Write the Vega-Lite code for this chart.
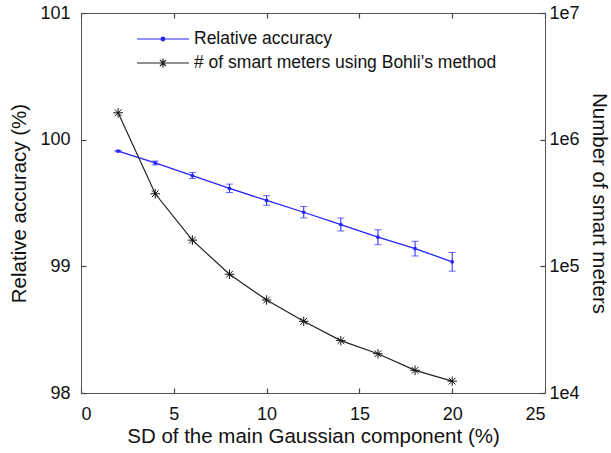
{
  "$schema": "https://vega.github.io/schema/vega-lite/v6.json",
  "width": 464,
  "height": 380,
  "autosize": {"type": "none"},
  "padding": {"left": 81, "top": 13, "right": 66, "bottom": 60},
  "background": "white",
  "config": {
    "view": {"stroke": "#555", "strokeWidth": 1},
    "font": "Liberation Sans",
    "axis": {
      "grid": false,
      "domainColor": "#555",
      "tickColor": "#444",
      "labelColor": "#111",
      "titleColor": "#111",
      "labelFont": "Liberation Sans",
      "titleFont": "Liberation Sans",
      "labelFontSize": 18,
      "titleFontSize": 20.5,
      "titleFontWeight": "normal",
      "tickSize": -5,
      "tickWidth": 1.2
    },
    "legend": {
      "labelFont": "Liberation Sans",
      "labelFontSize": 17.5,
      "labelColor": "#111",
      "labelLimit": 0
    }
  },
  "data": {
    "values": [
      {"sd": 2, "acc": 99.91, "err": 0.005, "meters": 1630000},
      {"sd": 4, "acc": 99.816, "err": 0.015, "meters": 374000},
      {"sd": 6, "acc": 99.717, "err": 0.024, "meters": 161000},
      {"sd": 8, "acc": 99.616, "err": 0.033, "meters": 86500},
      {"sd": 10, "acc": 99.52, "err": 0.038, "meters": 54200},
      {"sd": 12, "acc": 99.427, "err": 0.045, "meters": 36800},
      {"sd": 14, "acc": 99.33, "err": 0.051, "meters": 25900},
      {"sd": 16, "acc": 99.23, "err": 0.059, "meters": 20400},
      {"sd": 18, "acc": 99.14, "err": 0.058, "meters": 15100},
      {"sd": 20, "acc": 99.036, "err": 0.074, "meters": 12400}
    ]
  },
  "layer": [
    {
      "layer": [
        {
          "mark": {"type": "line", "strokeWidth": 1.3},
          "encoding": {
            "x": {
              "field": "sd", "type": "quantitative",
              "scale": {"domain": [0, 25], "nice": false},
              "axis": {"values": [0, 5, 10, 15, 20, 25], "title": "SD of the main Gaussian component (%)", "labelPadding": 17, "titlePadding": 3}
            },
            "y": {
              "field": "acc", "type": "quantitative",
              "scale": {"domain": [98, 101], "nice": false, "zero": false},
              "axis": {"values": [98, 99, 100, 101], "format": "d", "title": "Relative accuracy (%)", "labelPadding": 16, "titlePadding": 10}
            },
            "color": {
              "datum": "Relative accuracy",
              "type": "nominal",
              "scale": {"domain": ["Relative accuracy", "# of smart meters using Bohli’s method"], "range": ["#2424ff", "#222222"]},
              "legend": {
                "title": null,
                "orient": "none",
                "legendX": 55,
                "legendY": 14,
                "padding": 0,
                "symbolSize": 2704,
                "symbolStrokeWidth": 1.2,
                "labelOffset": 4,
                "clipHeight": 24,
                "rowPadding": 0,
                "encode": {
                  "symbols": {
                    "update": {
                      "shape": {"signal": "datum.value === 'Relative accuracy' ? 'M-1,0H1M0.07,0A0.07,0.07 0 1,1 -0.07,0A0.07,0.07 0 1,1 0.07,0Z' : 'M-1,0H1M-0.17,0H0.17M0,-0.17V0.17M-0.12,-0.12L0.12,0.12M-0.12,0.12L0.12,-0.12'"},
                      "fill": {"signal": "datum.value === 'Relative accuracy' ? '#2424ff' : 'transparent'"},
                      "size": {"value": 2704}
                    }
                  }
                }
              }
            }
          }
        },
        {
          "mark": {"type": "errorbar", "ticks": {"size": 7}, "color": "#2424ff"},
          "encoding": {
            "x": {"field": "sd", "type": "quantitative"},
            "y": {"field": "acc", "type": "quantitative", "title": "Relative accuracy (%)"},
            "yError": {"field": "err"}
          }
        },
        {
          "mark": {"type": "point", "filled": true, "size": 14, "color": "#2424ff", "opacity": 1},
          "encoding": {
            "x": {"field": "sd", "type": "quantitative"},
            "y": {"field": "acc", "type": "quantitative", "title": "Relative accuracy (%)"}
          }
        }
      ]
    },
    {
      "layer": [
        {
          "mark": {"type": "line", "strokeWidth": 1.2},
          "encoding": {
            "x": {
              "field": "sd", "type": "quantitative",
              "axis": {"orient": "top", "values": [0, 5, 10, 15, 20, 25], "labels": false, "title": null}
            },
            "y": {
              "field": "meters", "type": "quantitative",
              "scale": {"type": "log", "domain": [10000, 10000000], "nice": false},
              "axis": {"orient": "right", "values": [10000, 100000, 1000000, 10000000], "labelExpr": "'1e' + round(log(datum.value) / LN10)", "title": "Number of smart meters", "labelPadding": 9, "titlePadding": 9}
            },
            "color": {"datum": "# of smart meters using Bohli’s method", "type": "nominal"}
          }
        },
        {
          "mark": {"type": "point", "shape": "M-1,0H1M0,-1V1M-0.7,-0.7L0.7,0.7M-0.7,0.7L0.7,-0.7", "size": 90, "filled": false, "color": "#111", "strokeWidth": 1, "opacity": 1},
          "encoding": {
            "x": {"field": "sd", "type": "quantitative"},
            "y": {"field": "meters", "type": "quantitative"}
          }
        }
      ]
    }
  ],
  "resolve": {"scale": {"y": "independent"}, "axis": {"x": "independent"}}
}
